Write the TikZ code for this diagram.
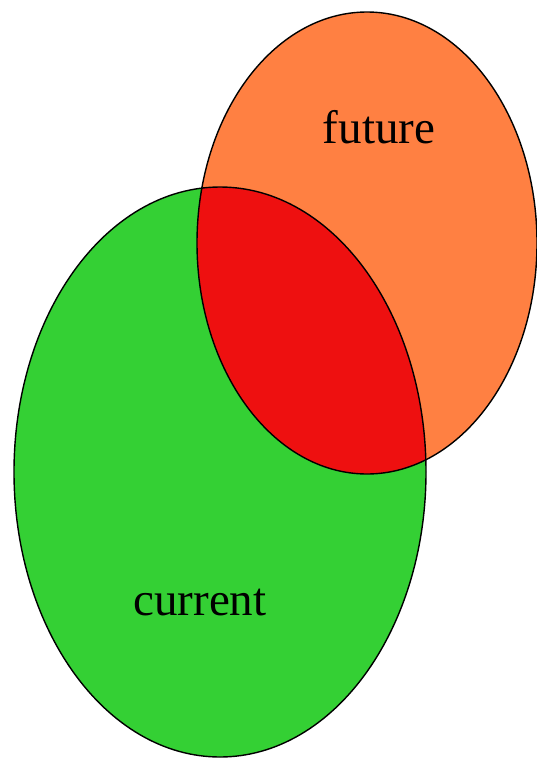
\documentclass[tikz,border=0pt]{standalone}
\usepackage{fontspec}
\setmainfont{Liberation Serif}
\definecolor{vgreen}{RGB}{52,208,52}
\definecolor{vorange}{RGB}{255,128,66}
\definecolor{vred}{RGB}{238,16,16}
\begin{document}
\begin{tikzpicture}[x=1pt,y=-1pt,
  lbl/.style={font=\fontsize{47}{50}\selectfont, inner sep=0pt, anchor=base},
  outline/.style={draw=black, line width=1.4pt}]
\useasboundingbox (0,0) rectangle (537,758);
\fill[vgreen] (220,472) ellipse [x radius=206, y radius=285];
\fill[vorange] (367,243) ellipse [x radius=170, y radius=231];
\begin{scope}
  \clip (220,472) ellipse [x radius=206, y radius=285];
  \fill[vred] (367,243) ellipse [x radius=170, y radius=231];
\end{scope}
\draw[outline] (220,472) ellipse [x radius=206, y radius=285];
\draw[outline] (367,243) ellipse [x radius=170, y radius=231];
\node[lbl] (future) at (379,143) {future};
\node[lbl] (current) at (200,615) {current};
\end{tikzpicture}
\end{document}
